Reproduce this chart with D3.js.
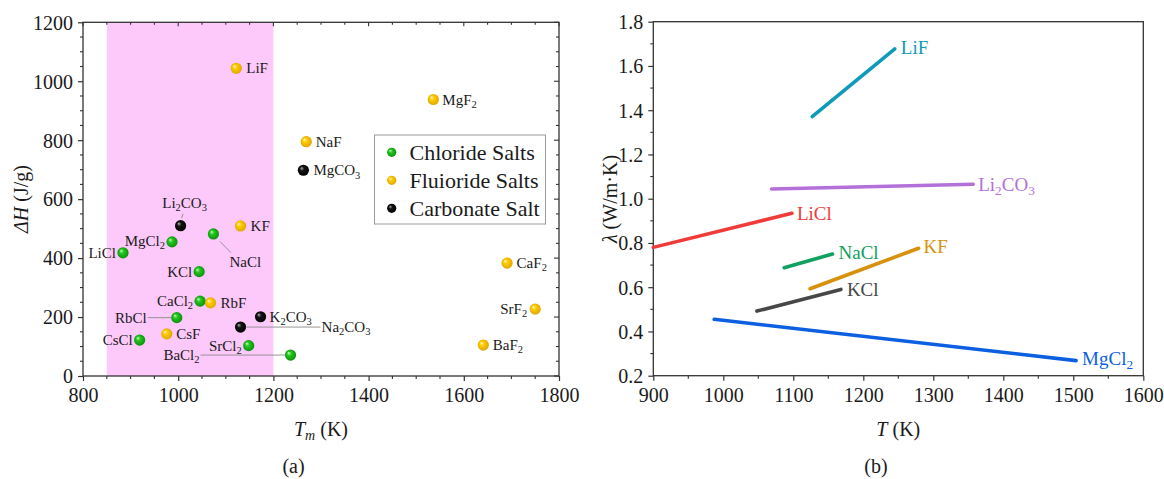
<!DOCTYPE html>
<html><head><meta charset="utf-8">
<script src="https://cdn.jsdelivr.net/npm/d3@7"></script>
<style>
body{margin:0;background:#fff}
svg{display:block}
text{font-family:"Liberation Serif","Times New Roman",serif;fill:#1a1a1a}
</style></head><body><svg id="fig" width="1164" height="479"></svg>
<script>
// ---------- (a) melting point vs. latent heat of fusion ----------
const saltNames = ["LiF","MgF_2","NaF","MgCO_3","KF","Li_2CO_3","MgCl_2","NaCl","LiCl","KCl","CaCl_2","RbF","RbCl","CsF","CsCl","SrCl_2","BaCl_2","K_2CO_3","Na_2CO_3","CaF_2","SrF_2","BaF_2"];
const meltingPoint = [1122,1536,1269,1263,1131,1005,987,1074,884,1044,1046,1068,997,976,919,1148,1236,1173,1131,1691,1750,1641];
const fusionHeat   = [1044,938,795,698,509,510,455,482,418,354,254,248,198,143,122,103,71,201,166,383,227,105];
const saltGroup    = ["F","F","F","C","F","C","Cl","Cl","Cl","Cl","Cl","F","Cl","F","Cl","Cl","Cl","C","C","F","F","F"];
const groupKeys    = ["Cl","F","C"];
const groupNames   = ["Chloride Salts","Fluioride Salts","Carbonate Salt"];
const windowRange  = [850,1200];
const xTicksA = [800,1000,1200,1400,1600,1800];
const yTicksA = [0,200,400,600,800,1000,1200];

// ---------- (b) thermal conductivity vs. temperature ----------
const condNames  = ["LiF","Li_2CO_3","LiCl","NaCl","KF","KCl","MgCl_2"];
const condT      = [[1127,1245],[1069,1357],[900,1098],[1087,1156],[1124,1279],[1048,1168],[987,1504]];
const condLambda = [[1.371,1.677],[1.044,1.065],[0.780,0.934],[0.688,0.750],[0.593,0.776],[0.492,0.590],[0.455,0.268]];
const xTicksB = [900,1000,1100,1200,1300,1400,1500,1600];
const yTicksB = [0.2,0.4,0.6,0.8,1.0,1.2,1.4,1.6,1.8];

// styling
const condColor = ["#0e9bb9","#b470d9","#f03b3b","#10a060","#d8910c","#474747","#0b5fe0"];
const sphere = {
  Cl:["#c8ffc0","#22c81e","#0c8a0a"],
  F: ["#fffbd8","#ffcc00","#dba300"],
  C: ["#b0b0b0","#141414","#000000"]
};
// label placement around each point (px offsets from the point)
const place = {
  "LiF":{a:"start",dx:10}, "MgF_2":{a:"start",dx:9}, "NaF":{a:"start",dx:9.5},
  "MgCO_3":{a:"start",dx:10}, "KF":{a:"start",dx:10},
  "Li_2CO_3":{a:"middle",dx:4,dy:-23,line:[2.5,-12,1,-7.5]},
  "MgCl_2":{a:"end",dx:-7,dy:-1}, "NaCl":{a:"start",dx:16,dy:27.7,line:[6.5,7.5,17.5,18.7]},
  "LiCl":{a:"end",dx:-7}, "KCl":{a:"end",dx:-7}, "CaCl_2":{a:"end",dx:-7,dy:-0.5},
  "RbF":{a:"start",dx:10}, "RbCl":{a:"end",dx:-30,line:[-29,0,-5.5,0]},
  "CsF":{a:"start",dx:9.5}, "CsCl":{a:"end",dx:-7}, "SrCl_2":{a:"end",dx:-7},
  "BaCl_2":{a:"end",dx:-91,line:[-90,0,-5.5,0]}, "K_2CO_3":{a:"start",dx:9},
  "Na_2CO_3":{a:"start",dx:81,line:[6,0,80,0]}, "CaF_2":{a:"start",dx:9.5},
  "SrF_2":{a:"end",dx:-8}, "BaF_2":{a:"start",dx:9.5}
};
const condPlace = {
  "LiF":[6,-1],"Li_2CO_3":[5,0],"LiCl":[5,0],"NaCl":[6,-1],"KF":[5,-1.5],"KCl":[6,0],"MgCl_2":[6,-2]
};

const svg = d3.select("#fig");
svg.append("rect").attr("width",1164).attr("height",479).attr("fill","#fff");
const AX = "#333";

// chemical formula with subscripts: "MgCl_2" -> MgCl + sub 2
function formula(textSel, s){
  const parts = s.split(/(_\d)/).filter(p=>p.length);
  let sub = false;
  parts.forEach(p=>{
    if(p[0]==="_"){
      textSel.append("tspan").attr("dy","0.3em").attr("font-size","70%").text(p.slice(1));
      sub = true;
    } else {
      const t = textSel.append("tspan").text(p);
      if(sub){ t.attr("dy","-0.21em"); sub=false; }
    }
  });
}

// gradients for the glossy markers
const defs = svg.append("defs");
groupKeys.forEach(k=>{
  const g = defs.append("radialGradient").attr("id","sph-"+k)
    .attr("cx","50%").attr("cy","50%").attr("r","55%").attr("fx","32%").attr("fy","30%");
  g.append("stop").attr("offset","0%").attr("stop-color",sphere[k][0]);
  g.append("stop").attr("offset","35%").attr("stop-color",sphere[k][1]);
  g.append("stop").attr("offset","100%").attr("stop-color",sphere[k][2]);
});

function drawAxes(g, x, y, opts){
  const [x0,x1] = x.range(), [y0,y1] = y.range();
  // bottom and left axes
  const bx = g.append("g").attr("transform",`translate(0,${y0})`)
    .call(d3.axisBottom(x).tickValues(opts.xt).tickSize(5).tickSizeOuter(0).tickPadding(7).tickFormat(d3.format("d")));
  const by = g.append("g").attr("transform",`translate(${x0},0)`)
    .call(d3.axisLeft(y).tickValues(opts.yt).tickSize(5).tickSizeOuter(0).tickPadding(5).tickFormat(opts.fmt));
  [bx,by].forEach(a=>{
    a.attr("font-family",null);
    a.select(".domain").remove();
    a.selectAll("line").attr("stroke",AX).attr("stroke-width",1.2);
    a.selectAll("text").attr("font-size",20).attr("fill","#1a1a1a")
      .attr("font-family",'"Liberation Serif",serif');
  });
  by.selectAll("text").attr("dy","0.34em");
  // minor ticks
  g.append("g").selectAll("line").data(opts.xm).join("line")
    .attr("x1",d=>x(d)).attr("x2",d=>x(d)).attr("y1",y0).attr("y2",y0+3)
    .attr("stroke",AX).attr("stroke-width",1.1);
  g.append("g").selectAll("line").data(opts.ym).join("line")
    .attr("y1",d=>y(d)).attr("y2",d=>y(d)).attr("x1",x0).attr("x2",x0-3)
    .attr("stroke",AX).attr("stroke-width",1.1);
  if(opts.mirror){
    g.append("g").selectAll("line").data(opts.xt.concat(opts.xm)).join("line")
      .attr("x1",d=>x(d)).attr("x2",d=>x(d)).attr("y1",y1).attr("y2",d=>y1+(opts.xt.includes(d)?4:2.5))
      .attr("stroke",AX).attr("stroke-width",1.1);
    g.append("g").selectAll("line").data(opts.yt.concat(opts.ym)).join("line")
      .attr("y1",d=>y(d)).attr("y2",d=>y(d)).attr("x1",x1).attr("x2",d=>x1-(opts.yt.includes(d)?5:3))
      .attr("stroke",AX).attr("stroke-width",1.1);
  }
  g.append("rect").attr("x",x0).attr("y",y1).attr("width",x1-x0).attr("height",y0-y1)
    .attr("fill","none").attr("stroke",AX).attr("stroke-width",1.3);
}

function range(a,b,s){ const r=[]; for(let v=a; v<=b+1e-9; v+=s) r.push(+v.toFixed(4)); return r; }

// ================= panel (a) =================
const xa = d3.scaleLinear().domain([800,1800]).range([83,559]);
const ya = d3.scaleLinear().domain([0,1200]).range([376,22.3]);
const ga = svg.append("g");
ga.append("rect").attr("x",xa(windowRange[0])).attr("y",ya(1200))
  .attr("width",xa(windowRange[1])-xa(windowRange[0])).attr("height",ya(0)-ya(1200))
  .attr("fill","#fdc9fb");
drawAxes(ga, xa, ya, {
  xt:xTicksA, yt:yTicksA, fmt:d3.format("d"), mirror:true,
  xm:range(850,1750,50).filter(v=>!xTicksA.includes(v)),
  ym:range(50,1150,50).filter(v=>!yTicksA.includes(v))
});

const pts = saltNames.map((n,i)=>({n, t:meltingPoint[i], h:fusionHeat[i], g:saltGroup[i]}));
const lead = ga.append("g");
pts.forEach(p=>{
  const pl = place[p.n];
  if(pl && pl.line){
    const cx = xa(p.t), cy = ya(p.h);
    lead.append("line").attr("x1",cx+pl.line[0]).attr("y1",cy+pl.line[1])
      .attr("x2",cx+pl.line[2]).attr("y2",cy+pl.line[3])
      .attr("stroke","#8a8a8a").attr("stroke-width",0.9);
  }
});
ga.append("g").selectAll("circle").data(pts).join("circle")
  .attr("cx",d=>xa(d.t)).attr("cy",d=>ya(d.h)).attr("r",5.6)
  .attr("fill",d=>`url(#sph-${d.g})`);
const lab = ga.append("g").attr("font-size",15);
pts.forEach(p=>{
  const pl = place[p.n] || {a:"start",dx:10};
  const t = lab.append("text").attr("x",xa(p.t)+pl.dx).attr("y",ya(p.h)+(pl.dy||0))
    .attr("dy","0.34em").attr("text-anchor",pl.a);
  formula(t,p.n);
});

// legend
const lg = ga.append("g");
lg.append("rect").attr("x",374.5).attr("y",135).attr("width",171).attr("height",89)
  .attr("fill","#fff").attr("stroke","#9a9a9a").attr("stroke-width",1);
groupKeys.forEach((k,i)=>{
  const yy = 152.3 + i*28;
  lg.append("circle").attr("cx",391.7).attr("cy",yy).attr("r",4.6).attr("fill",`url(#sph-${k})`);
  lg.append("text").attr("x",409.5).attr("y",yy).attr("dy","0.34em").attr("font-size",22).text(groupNames[i]);
});

// axis titles
const ta = svg.append("text").attr("transform","translate(28,199) rotate(-90)")
  .attr("text-anchor","middle").attr("font-size",20);
ta.append("tspan").attr("font-style","italic").text("ΔH");
ta.append("tspan").text(" (J/g)");
const tx = svg.append("text").attr("x",xa(1300)).attr("y",436).attr("text-anchor","middle").attr("font-size",20);
tx.append("tspan").attr("font-style","italic").text("T");
tx.append("tspan").attr("font-style","italic").attr("font-size","70%").attr("dy","0.3em").text("m");
tx.append("tspan").attr("dy","-0.21em").text(" (K)");
svg.append("text").attr("x",293.5).attr("y",473).attr("text-anchor","middle").attr("font-size",20).text("(a)");

// ================= panel (b) =================
const xb = d3.scaleLinear().domain([900,1600]).range([653.3,1143.3]);
const yb = d3.scaleLinear().domain([0.2,1.8]).range([375.7,21.7]);
const gb = svg.append("g");
drawAxes(gb, xb, yb, {
  xt:xTicksB, yt:yTicksB, fmt:d3.format(".1f"), mirror:false,
  xm:range(950,1550,100), ym:range(0.3,1.7,0.2)
});
const line = d3.line().x(d=>xb(d[0])).y(d=>yb(d[1]));
condNames.forEach((n,i)=>{
  const pts = condT[i].map((t,j)=>[t,condLambda[i][j]]);
  gb.append("path").attr("d",line(pts)).attr("fill","none")
    .attr("stroke",condColor[i]).attr("stroke-width",3.6).attr("stroke-linecap","round");
  const end = pts[pts.length-1];
  const off = condPlace[n];
  const t = gb.append("text").attr("x",xb(end[0])+off[0]).attr("y",yb(end[1])+off[1])
    .attr("dy","0.34em").attr("font-size",19).style("fill",condColor[i]);
  formula(t,n);
});
const tb = svg.append("text").attr("transform","translate(617,199) rotate(-90)")
  .attr("text-anchor","middle").attr("font-size",20);
tb.append("tspan").attr("font-style","italic").text("λ");
tb.append("tspan").text(" (W/m·K)");
const txb = svg.append("text").attr("x",xb(1250)).attr("y",436).attr("text-anchor","middle").attr("font-size",20);
txb.append("tspan").attr("font-style","italic").text("T");
txb.append("tspan").text(" (K)");
svg.append("text").attr("x",876).attr("y",473).attr("text-anchor","middle").attr("font-size",20).text("(b)");
</script></body></html>
